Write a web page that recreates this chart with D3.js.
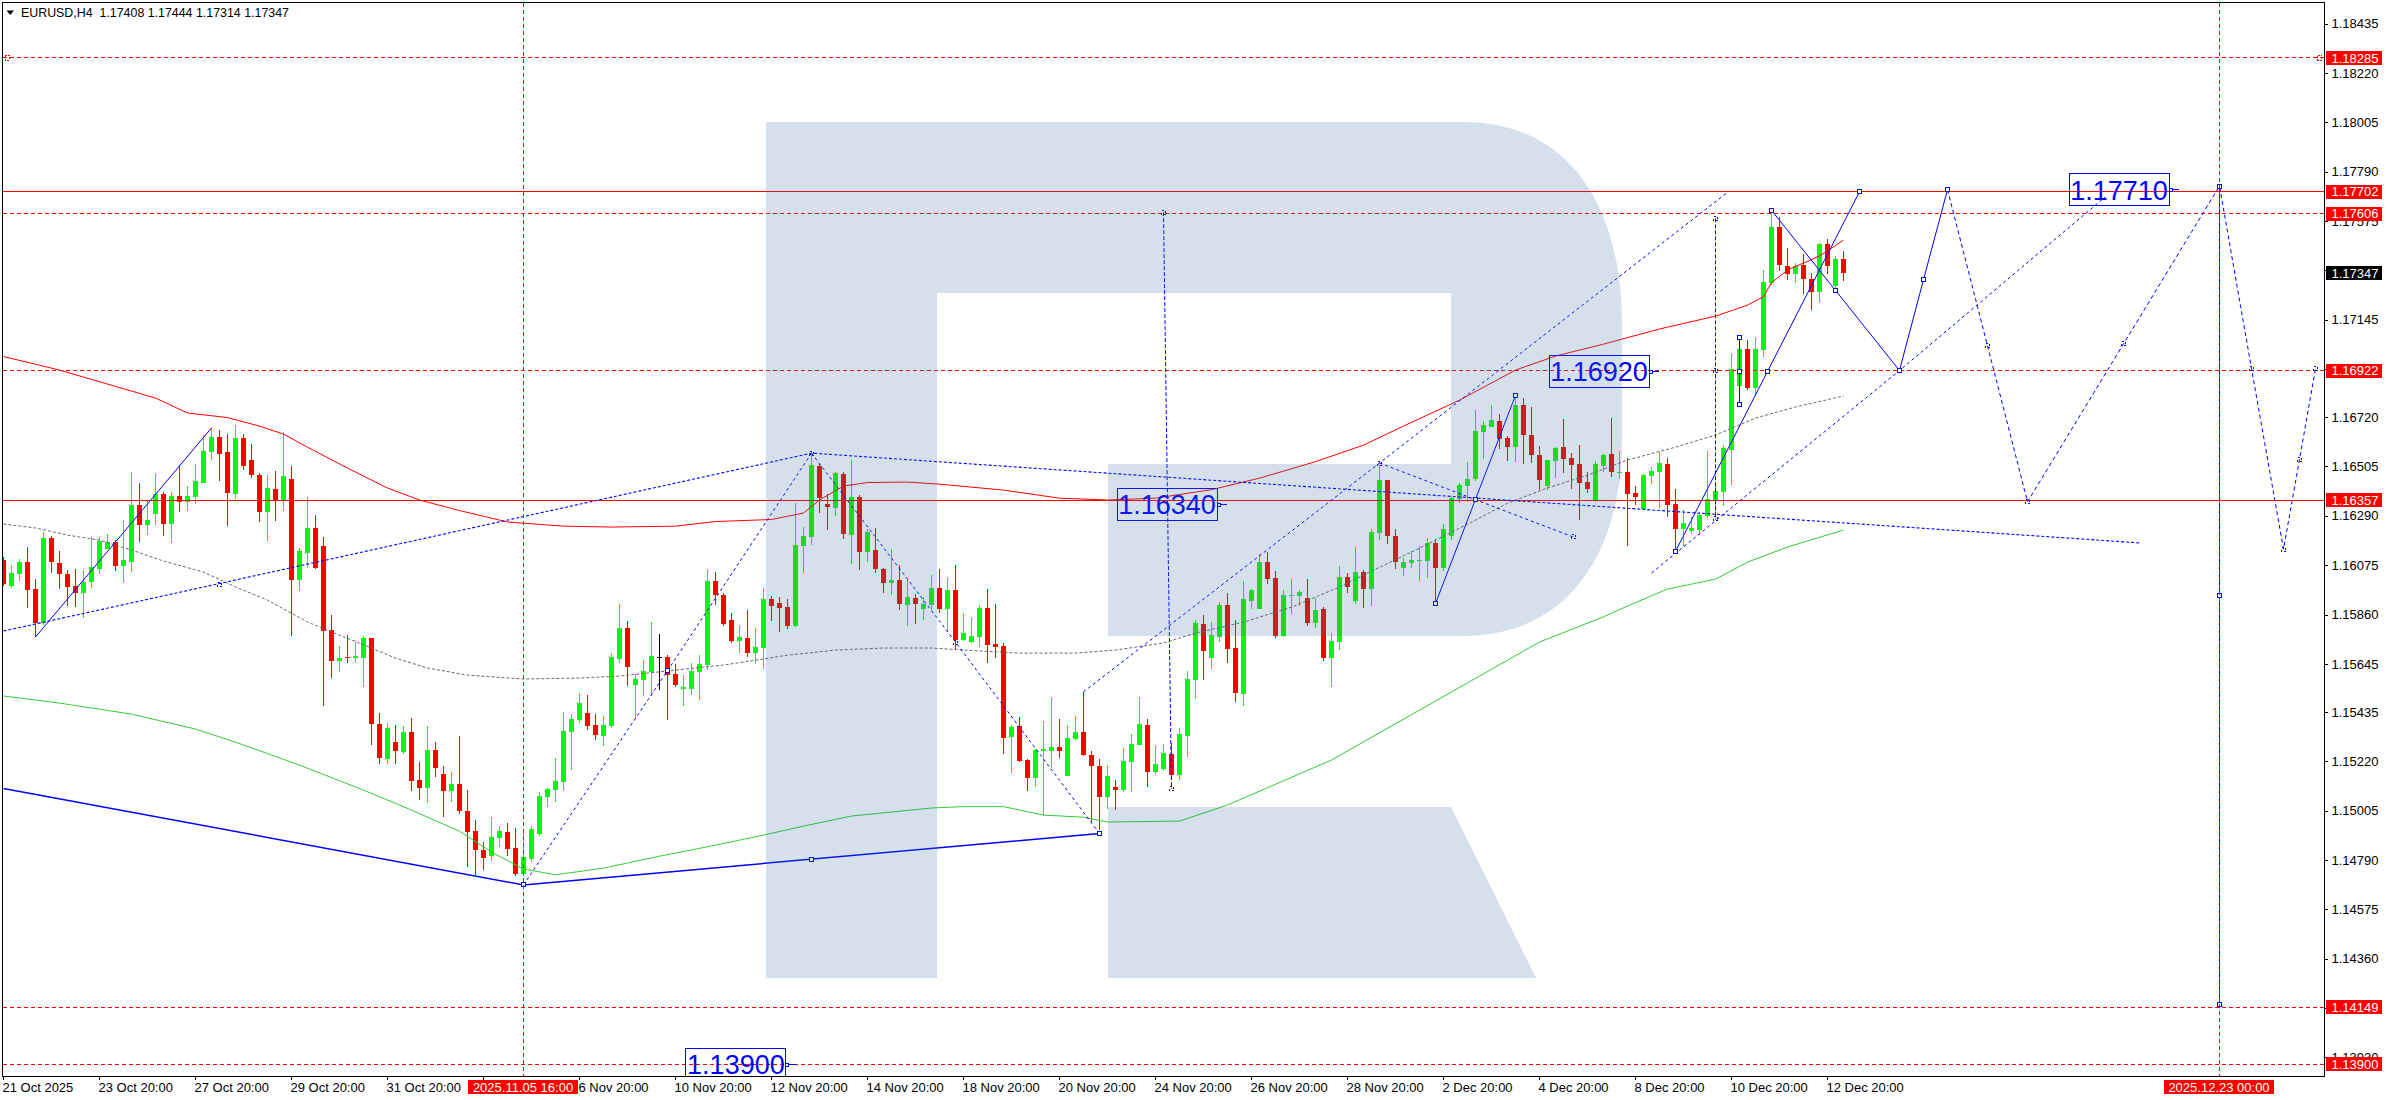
<!DOCTYPE html>
<html><head><meta charset="utf-8">
<script src="https://cdn.jsdelivr.net/npm/d3@7"></script>
<style>
html,body{margin:0;padding:0;background:#fff;overflow:hidden}
svg{display:block}
text{font-family:"Liberation Sans",Arial,sans-serif}
</style></head><body><svg id="c" width="2388" height="1100"></svg>
<script>
// ---------- candle data (H4 bars, index 0..230) ----------
const opens=[
1.16098,1.15985,1.16037,1.16089,1.15972,1.15822,1.16194,1.16085,1.16037,1.15985,
1.15954,1.16002,1.16059,1.16146,1.16176,1.16072,1.16089,1.16338,1.16250,1.16298,
1.16385,1.16255,1.16377,1.16351,1.16372,1.16433,1.16568,1.16634,1.16568,1.16385,
1.16629,1.16534,1.16468,1.16307,1.16407,1.16359,1.16451,1.16011,1.16128,1.16237,
1.16160,1.15793,1.15658,1.15675,1.15671,1.15671,1.15758,1.15383,1.15231,1.15305,
1.15261,1.15349,1.15139,1.15105,1.15270,1.15166,1.15092,1.15122,1.15004,1.14917,
1.14834,1.14808,1.14886,1.14913,1.14843,1.14730,1.14795,1.14904,1.15065,1.15096,
1.15131,1.15349,1.15401,1.15431,1.15379,1.15331,1.15375,1.15666,1.15801,1.15553,
1.15574,1.15609,1.15677,1.15675,1.15600,1.15535,1.15535,1.15609,1.15640,1.16006,
1.15945,1.15836,1.15744,1.15757,1.15692,1.15714,1.15927,1.15910,1.15892,1.15810,
1.16158,1.16197,1.16507,1.16341,1.16324,1.16472,1.16206,1.16372,1.16132,1.16141,
1.16058,1.15997,1.16010,1.15901,1.15932,1.15884,1.15902,1.15976,1.15884,1.15967,
1.15749,1.15740,1.15762,1.15889,1.15732,1.15723,1.15327,1.15374,1.15226,1.15148,
1.15266,1.15266,1.15283,1.15157,1.15318,1.15348,1.15248,1.15200,1.15065,1.15109,
1.15096,1.15218,1.15292,1.15379,1.15174,1.15187,1.15252,1.15161,1.15331,1.15575,
1.15819,1.15671,1.15762,1.15902,1.15714,1.15513,1.15919,1.15884,1.16089,1.16019,
1.15766,1.15941,1.15941,1.15932,1.15823,1.15884,1.15671,1.15740,1.16024,1.15919,
1.16045,1.15971,1.16215,1.16446,1.16202,1.16063,1.16085,1.16093,1.16093,1.16172,
1.16063,1.16202,1.16363,1.16420,1.16450,1.16655,1.16677,1.16703,1.16629,1.16590,
1.16773,1.16642,1.16555,1.16420,1.16529,1.16590,1.16542,1.16516,1.16438,1.16359,
1.16507,1.16560,1.16477,1.16481,1.16390,1.16320,1.16464,1.16481,1.16516,1.16342,
1.16233,1.16224,1.16229,1.16290,1.16359,1.16394,1.16577,1.16856,1.17017,1.16847,
1.17013,1.17305,1.17549,1.17379,1.17344,1.17383,1.17322,1.17266,1.17475,1.17292,
1.17408];
const highs=[
1.16110,1.16076,1.16102,1.16155,1.16015,1.16220,1.16202,1.16137,1.16054,1.16059,
1.16054,1.16198,1.16198,1.16211,1.16185,1.16272,1.16481,1.16433,1.16355,1.16473,
1.16394,1.16394,1.16512,1.16420,1.16516,1.16643,1.16673,1.16664,1.16647,1.16686,
1.16647,1.16603,1.16477,1.16468,1.16486,1.16656,1.16507,1.16150,1.16372,1.16294,
1.16197,1.15858,1.15723,1.15771,1.15741,1.15767,1.15758,1.15431,1.15388,1.15379,
1.15375,1.15410,1.15218,1.15375,1.15305,1.15200,1.15174,1.15331,1.15096,1.14965,
1.14869,1.14978,1.14939,1.14952,1.14930,1.14926,1.14939,1.15087,1.15105,1.15235,
1.15436,1.15427,1.15519,1.15510,1.15427,1.15418,1.15692,1.15905,1.15831,1.15600,
1.15661,1.15827,1.15775,1.15683,1.15644,1.15596,1.15648,1.15683,1.16054,1.16045,
1.15953,1.15866,1.15810,1.15879,1.15801,1.15975,1.15940,1.15936,1.15927,1.16346,
1.16241,1.16563,1.16515,1.16385,1.16481,1.16481,1.16533,1.16380,1.16232,1.16237,
1.16062,1.16145,1.16075,1.16013,1.15949,1.15936,1.16032,1.16059,1.16019,1.16076,
1.15867,1.15845,1.15902,1.15971,1.15906,1.15736,1.15379,1.15414,1.15231,1.15274,
1.15396,1.15496,1.15405,1.15379,1.15418,1.15523,1.15266,1.15231,1.15205,1.15139,
1.15279,1.15340,1.15501,1.15405,1.15287,1.15296,1.15300,1.15366,1.15614,1.15836,
1.15858,1.15828,1.15915,1.15954,1.15836,1.16006,1.15971,1.16124,1.16132,1.16050,
1.15967,1.16015,1.15967,1.16015,1.15932,1.15893,1.15780,1.16071,1.16041,1.16154,
1.16054,1.16233,1.16512,1.16446,1.16233,1.16106,1.16137,1.16159,1.16193,1.16189,
1.16255,1.16372,1.16433,1.16525,1.16751,1.16703,1.16773,1.16734,1.16638,1.16817,
1.16803,1.16764,1.16594,1.16533,1.16590,1.16712,1.16564,1.16599,1.16481,1.16529,
1.16560,1.16717,1.16573,1.16542,1.16420,1.16473,1.16503,1.16568,1.16542,1.16407,
1.16316,1.16285,1.16307,1.16573,1.16420,1.16599,1.16995,1.17017,1.17056,1.17065,
1.17361,1.17610,1.17592,1.17457,1.17392,1.17431,1.17348,1.17479,1.17497,1.17422,
1.17444];
const lows=[
1.15985,1.15976,1.16006,1.15889,1.15762,1.15815,1.16041,1.15972,1.15897,1.15893,
1.15845,1.15976,1.16037,1.16146,1.16050,1.16002,1.16046,1.16176,1.16207,1.16250,
1.16202,1.16172,1.16307,1.16311,1.16342,1.16433,1.16534,1.16442,1.16246,1.16364,
1.16490,1.16455,1.16263,1.16181,1.16268,1.16311,1.15767,1.15963,1.16063,1.16058,
1.15463,1.15584,1.15610,1.15649,1.15649,1.15545,1.15292,1.15209,1.15209,1.15209,
1.15253,1.15092,1.15052,1.15039,1.15153,1.14978,1.15044,1.14991,1.14760,1.14725,
1.14747,1.14786,1.14847,1.14808,1.14721,1.14721,1.14782,1.14895,1.15022,1.15044,
1.15096,1.15183,1.15388,1.15357,1.15313,1.15287,1.15366,1.15649,1.15548,1.15409,
1.15505,1.15505,1.15531,1.15400,1.15544,1.15461,1.15509,1.15487,1.15618,1.15901,
1.15810,1.15736,1.15692,1.15675,1.15644,1.15622,1.15831,1.15783,1.15797,1.15805,
1.16041,1.16163,1.16302,1.16228,1.16289,1.16189,1.16080,1.16054,1.16088,1.16041,
1.15953,1.15945,1.15879,1.15810,1.15818,1.15836,1.15880,1.15867,1.15788,1.15706,
1.15745,1.15736,1.15719,1.15649,1.15671,1.15252,1.15170,1.15218,1.15091,1.15109,
1.14982,1.15192,1.15235,1.15157,1.15313,1.15244,1.14956,1.14921,1.15013,1.15009,
1.15087,1.15087,1.15292,1.15109,1.15165,1.15178,1.15139,1.15139,1.15239,1.15492,
1.15575,1.15623,1.15740,1.15649,1.15479,1.15461,1.15884,1.15884,1.15993,1.15758,
1.15762,1.15862,1.15897,1.15810,1.15801,1.15658,1.15546,1.15706,1.15954,1.15906,
1.15889,1.15897,1.16185,1.16167,1.16058,1.16028,1.16063,1.16006,1.16019,1.15915,
1.16050,1.16185,1.16346,1.16350,1.16442,1.16538,1.16677,1.16581,1.16529,1.16525,
1.16516,1.16520,1.16403,1.16403,1.16455,1.16477,1.16407,1.16272,1.16390,1.16351,
1.16481,1.16460,1.16451,1.16159,1.16338,1.16320,1.16429,1.16325,1.16285,1.16142,
1.16159,1.16211,1.16207,1.16281,1.16272,1.16333,1.16425,1.16856,1.16839,1.16812,
1.16982,1.17296,1.17357,1.17318,1.17305,1.17257,1.17187,1.17222,1.17344,1.17283,
1.17314];
const closes=[
1.15993,1.16041,1.16089,1.15967,1.15823,1.16194,1.16089,1.16037,1.15980,1.15954,
1.16002,1.16067,1.16181,1.16176,1.16072,1.16098,1.16338,1.16250,1.16272,1.16385,
1.16255,1.16377,1.16351,1.16377,1.16442,1.16573,1.16634,1.16560,1.16390,1.16629,
1.16507,1.16468,1.16307,1.16412,1.16355,1.16464,1.16011,1.16137,1.16237,1.16063,
1.15788,1.15658,1.15671,1.15671,1.15680,1.15758,1.15383,1.15235,1.15366,1.15266,
1.15349,1.15135,1.15105,1.15270,1.15192,1.15092,1.15122,1.15004,1.14913,1.14834,
1.14799,1.14891,1.14917,1.14838,1.14730,1.14804,1.14926,1.15070,1.15100,1.15135,
1.15353,1.15405,1.15475,1.15375,1.15335,1.15379,1.15675,1.15801,1.15631,1.15579,
1.15614,1.15679,1.15677,1.15596,1.15553,1.15544,1.15614,1.15644,1.16006,1.15945,
1.15818,1.15744,1.15762,1.15692,1.15718,1.15927,1.15897,1.15888,1.15810,1.16163,
1.16202,1.16511,1.16367,1.16328,1.16476,1.16210,1.16372,1.16132,1.16219,1.16058,
1.15997,1.16010,1.15905,1.15936,1.15905,1.15905,1.15976,1.15884,1.15967,1.15749,
1.15780,1.15767,1.15889,1.15727,1.15719,1.15322,1.15370,1.15222,1.15148,1.15270,
1.15274,1.15283,1.15266,1.15322,1.15348,1.15248,1.15200,1.15065,1.15157,1.15096,
1.15222,1.15296,1.15383,1.15174,1.15209,1.15257,1.15161,1.15340,1.15579,1.15823,
1.15701,1.15771,1.15902,1.15710,1.15518,1.15927,1.15967,1.16089,1.16015,1.15766,
1.15945,1.15945,1.15958,1.15823,1.15880,1.15671,1.15745,1.16024,1.15980,1.16045,
1.15971,1.16220,1.16446,1.16202,1.16089,1.16089,1.16098,1.16098,1.16172,1.16063,
1.16233,1.16368,1.16424,1.16450,1.16660,1.16686,1.16708,1.16625,1.16590,1.16773,
1.16642,1.16555,1.16446,1.16533,1.16586,1.16538,1.16512,1.16433,1.16407,1.16516,
1.16555,1.16481,1.16481,1.16385,1.16372,1.16468,1.16486,1.16521,1.16338,1.16233,
1.16259,1.16237,1.16294,1.16364,1.16399,1.16586,1.16930,1.17017,1.16847,1.17017,
1.17309,1.17549,1.17383,1.17344,1.17379,1.17322,1.17266,1.17475,1.17379,1.17409,
1.17347];
const dojiBars=[82];

// ---------- moving averages: [bar index, price] ----------
const maRed=[[0,1.16984],[7,1.16925],[13,1.16864],[19,1.16803],[23,1.16738],[28,1.16718],[32,1.16681],[35,1.16646],[38,1.16589],[43,1.16498],[48,1.16411],[52,1.16359],[57,1.16313],[63,1.16263],[70,1.16245],[76,1.16241],[84,1.16245],[89,1.16265],[96,1.16274],[100,1.16302],[102,1.16359],[105,1.16420],[108,1.16435],[113,1.16437],[117,1.16428],[125,1.16402],[132,1.16367],[138,1.16359],[144,1.16367],[151,1.16404],[157,1.16454],[164,1.16526],[170,1.16598],[175,1.16681],[182,1.16794],[189,1.16925],[194,1.16986],[200,1.17038],[207,1.17104],[214,1.17160],[216,1.17184],[218,1.17208],[220,1.17245],[221,1.17306],[223,1.17361],[227,1.17422],[230,1.17491]];
const maGray=[[0,1.16254],[4,1.16237],[8,1.16206],[12,1.16184],[16,1.16141],[20,1.16093],[25,1.16045],[29,1.15980],[33,1.15923],[38,1.15827],[42,1.15770],[46,1.15714],[49,1.15670],[53,1.15627],[58,1.15596],[65,1.15579],[72,1.15583],[77,1.15592],[83,1.15614],[90,1.15640],[95,1.15666],[98,1.15683],[104,1.15705],[110,1.15714],[116,1.15714],[122,1.15701],[127,1.15692],[134,1.15692],[139,1.15705],[145,1.15736],[149,1.15779],[155,1.15827],[161,1.15892],[167,1.15980],[171,1.16049],[177,1.16149],[184,1.16271],[188,1.16345],[193,1.16411],[198,1.16467],[203,1.16533],[209,1.16589],[214,1.16642],[219,1.16716],[224,1.16764],[230,1.16812]];
const maGreen=[[0,1.15505],[7,1.15474],[16,1.15426],[24,1.15361],[29,1.15304],[37,1.15204],[45,1.15095],[51,1.15008],[57,1.14916],[61,1.14825],[65,1.14751],[69,1.14726],[75,1.14755],[82,1.14807],[89,1.14855],[95,1.14899],[100,1.14938],[106,1.14982],[116,1.15017],[120,1.15023],[125,1.15023],[130,1.14986],[135,1.14977],[138,1.14956],[147,1.14960],[153,1.15030],[166,1.15226],[179,1.15483],[192,1.15740],[200,1.15850],[203,1.15897],[208,1.15971],[214,1.16014],[218,1.16088],[223,1.16154],[230,1.16228]];

// ---------- drawn objects: [bar index, price] ----------
const waveSmall=[[4,1.15762],[26,1.16673]];
const waveHeavy=[[0,1.15102],[65,1.14682],[137,1.14906]];
const channelLong=[[0,1.15788],[101,1.16563],[267,1.16172]];
const waveUp=[[65,1.14682],[83,1.15615],[101,1.16563]];
const waveDown=[[101,1.16563],[119,1.15740],[137,1.14906]];
const channelUp=[[135,1.15523],[172,1.16520],[215.6,1.17702]];
const channelDown=[[172,1.16520],[196.2,1.16198]];
const channelFuture=[[206,1.16041],[237,1.16923],[262.7,1.17679]];
const forecastA=[[209,1.16135],[220.5,1.16919],[232,1.17702]];
const forecastB=[[221,1.17621],[229,1.17272],[237,1.16923],[240,1.17319],[243,1.17711]];
const forecastC=[[217,1.17069],[217,1.16918],[217,1.16775]];
const forecastD=[[179,1.15908],[184,1.16362],[189,1.16815]];
const forecastDash=[[243,1.17711],[248,1.17031],[253,1.16351],[265,1.17039],[277,1.17727],[281,1.16932],[285,1.16145],[287,1.16535],[289,1.16932]];
const verticalK=[[145,1.17613],[146,1.15101]];
const verticalL=[[214,1.17586],[214,1.16925],[214,1.16279]];
const verticalM=[[277,1.17727],[277,1.15942],[277,1.14160]];

// ---------- levels and labels ----------
const solidLevels=[1.17702,1.16357];
const dashedLevels=[1.18285,1.17606,1.16922,1.14149,1.13900];
const crossBars=[65,277];
const crossLabels=["2025.11.05 16:00","2025.12.23 00:00"];
const currentPrice=1.17347;
const boxedPrices=[1.16340,1.16920,1.17710,1.13900];
const boxedRightBars=[151.7,205.7,270.7,97.8];
const priceTicks=[1.18435,1.18220,1.18005,1.17790,1.17575,1.17360,1.17145,1.16930,1.16720,1.16505,1.16290,1.16075,1.15860,1.15645,1.15435,1.15220,1.15005,1.14790,1.14575,1.14360,1.14145,1.13930];
const coveredPriceTicks=[1.17360,1.16930,1.14145];
const timeTickBars=[0,12,24,36,48,60,72,84,96,108,120,132,144,156,168,180,192,204,216,228];
const timeTickLabels=["21 Oct 2025","23 Oct 20:00","27 Oct 20:00","29 Oct 20:00","31 Oct 20:00","","6 Nov 20:00","10 Nov 20:00","12 Nov 20:00","14 Nov 20:00","18 Nov 20:00","20 Nov 20:00","24 Nov 20:00","26 Nov 20:00","28 Nov 20:00","2 Dec 20:00","4 Dec 20:00","8 Dec 20:00","10 Dec 20:00","12 Dec 20:00"];
const headerText="EURUSD,H4  1.17408 1.17444 1.17314 1.17347";

// ---------- scales ----------
const L=2.5,T=2.5,R=2324.5,B=1076.5;
const x=d3.scaleLinear().domain([0,289]).range([3.5,3.5+8*289]);
const y=d3.scaleLinear().domain([1.18435,1.14360]).range([23.5,958.8]);
const px=v=>Math.round(v-0.5)+0.5;

const svg=d3.select("#c");
svg.append("rect").attr("width",2388).attr("height",1100).attr("fill","#fff");
svg.append("defs").append("clipPath").attr("id","plot").append("rect").attr("x",L).attr("y",T).attr("width",R-L).attr("height",B-T);

// ---------- axes ----------
const fmt=d3.format(".5f");
const axY=svg.append("g").attr("transform",`translate(${R},0)`)
  .call(d3.axisRight(y).tickValues(priceTicks).tickFormat(d=>coveredPriceTicks.includes(d)?"":fmt(d)).tickSize(3).tickPadding(4));
axY.select(".domain").remove();
axY.selectAll("text").attr("font-size",13).attr("fill","#000").attr("font-family","Liberation Sans");
axY.selectAll("line").attr("stroke","#000").attr("shape-rendering","crispEdges");
const axX=svg.append("g").attr("transform",`translate(0,${B})`)
  .call(d3.axisBottom(x).tickValues(timeTickBars).tickFormat((d,i)=>timeTickLabels[i]).tickSize(3).tickPadding(3));
axX.select(".domain").remove();
axX.selectAll("text").attr("font-size",13).attr("fill","#000").attr("text-anchor","start").attr("dx",-1.5).attr("font-family","Liberation Sans");
axX.selectAll("line").attr("stroke","#000").attr("shape-rendering","crispEdges").attr("transform","translate(-1,0)");

const plot=svg.append("g").attr("clip-path","url(#plot)");

// ---------- candles ----------
const bars=d3.range(opens.length).map(i=>({i,o:opens[i],h:highs[i],l:lows[i],c:closes[i]}));
const colour=d=>dojiBars.includes(d.i)?"#000":(d.c>=d.o?"#00ff00":"#ff0000");
const cg=plot.append("g").attr("shape-rendering","crispEdges");
cg.selectAll(".w").data(bars).join("rect").attr("class","w")
  .attr("x",d=>x(d.i)-0.5).attr("width",1)
  .attr("y",d=>y(d.h)).attr("height",d=>Math.max(1,y(d.l)-y(d.h))).attr("fill",colour);
cg.selectAll(".b").data(bars).join("rect").attr("class","b")
  .attr("x",d=>x(d.i)-2.5).attr("width",5)
  .attr("y",d=>Math.min(y(d.o),y(d.c))).attr("height",d=>Math.max(1,Math.abs(y(d.o)-y(d.c)))).attr("fill",colour);

// ---------- moving averages ----------
const line=d3.line().x(d=>x(d[0])).y(d=>y(d[1]));
const path=(data,stroke,w,dash)=>plot.append("path").attr("d",line(data)).attr("fill","none").attr("stroke",stroke).attr("stroke-width",w).attr("stroke-dasharray",dash||null);
path(maRed,"#ff0000",1);
path(maGreen,"#32cd32",1);
path(maGray,"#696969",1,"3,2");

// ---------- horizontal levels ----------
plot.selectAll(".ls").data(solidLevels).join("line").attr("x1",L).attr("x2",R)
  .attr("y1",d=>px(y(d))).attr("y2",d=>px(y(d))).attr("stroke","#ff0000").attr("shape-rendering","crispEdges");
plot.selectAll(".ld").data(dashedLevels).join("line").attr("x1",L).attr("x2",R)
  .attr("y1",d=>px(y(d))).attr("y2",d=>px(y(d))).attr("stroke","#ff0000").attr("stroke-dasharray","4,3").attr("shape-rendering","crispEdges");

// ---------- objects ----------
const BLUE="#0000ff";
path(waveSmall,BLUE,1);
path(channelLong,BLUE,1.1,"3,2");
path(waveHeavy,BLUE,1.5);
path(waveUp,BLUE,1,"3,3");
path(waveDown,BLUE,1,"3,3");
path(channelUp,BLUE,1,"3,3");
path(channelDown,BLUE,1,"3,3");
path(channelFuture,BLUE,1,"3,3");
[forecastA,forecastB,forecastC,forecastD,verticalM].forEach(a=>path(a,BLUE,1));
path(forecastDash,BLUE,1,"4,3");
path(verticalK,BLUE,1,"4,2");
path(verticalL,BLUE,1,"4,2");

const node=(pts,dash)=>plot.append("g").selectAll("rect").data(pts).join("rect")
  .attr("x",d=>px(x(d[0]))-2).attr("y",d=>px(y(d[1]))-2).attr("width",4).attr("height",4)
  .attr("fill",dash?"none":"#fff").attr("stroke",BLUE).attr("stroke-dasharray",dash?"2,2":null).attr("shape-rendering","crispEdges");
node([...waveHeavy.slice(1),[101,1.14794],...forecastA,...forecastB,...forecastC,...forecastD,...verticalM,[83,1.15615]]);
node([[101,1.16563],[119,1.15740],[172,1.16520],[196.2,1.16198],[27,1.15991],...forecastDash.slice(1),...verticalK,...verticalL],true);

// crosshair drawn above blue line
plot.selectAll(".cr").data(crossBars).join("line").attr("x1",d=>x(d)).attr("x2",d=>x(d)).attr("y1",T).attr("y2",B)
  .attr("stroke","#ff0000").attr("stroke-dasharray","4,3").attr("shape-rendering","crispEdges");

// end markers of the top level
plot.selectAll(".mk").data([0.2,289.3]).join("rect").attr("x",d=>x(d)).attr("y",y(1.18285)-2.5).attr("width",4).attr("height",5)
  .attr("fill","none").attr("stroke","#ff0000").attr("stroke-dasharray","2,1").attr("shape-rendering","crispEdges");

// ---------- boxed price labels ----------
const boxes=boxedPrices.map((p,i)=>({p,r:boxedRightBars[i]}));
const bx=plot.append("g");
bx.selectAll("rect.box").data(boxes).join("rect").attr("class","box").attr("x",d=>px(x(d.r))-100).attr("y",d=>px(y(d.p))-16).attr("width",100).attr("height",32)
  .attr("fill","none").attr("stroke",BLUE).attr("shape-rendering","crispEdges");
bx.selectAll("text").data(boxes).join("text").attr("x",d=>x(d.r)-50).attr("y",d=>y(d.p)+10).attr("text-anchor","middle")
  .attr("font-size",27).attr("fill",BLUE).text(d=>d.p.toFixed(5));
bx.selectAll("line").data(boxes).join("line").attr("x1",d=>x(d.r)).attr("x2",d=>x(d.r)+10).attr("y1",d=>px(y(d.p))).attr("y2",d=>px(y(d.p)))
  .attr("stroke",BLUE).attr("shape-rendering","crispEdges");
bx.selectAll("rect.pin").data(boxes).join("rect").attr("class","pin").attr("x",d=>px(x(d.r))).attr("y",d=>px(y(d.p))-1.5).attr("width",3).attr("height",3)
  .attr("fill","#fff").attr("stroke",BLUE).attr("shape-rendering","crispEdges");

// ---------- watermark over everything in the plot ----------
plot.append("path")
  .attr("d","M766,122 L1463,122 C1575,122 1622,215 1622,323 L1622,440 C1622,550 1570,636 1463,636 L1108,636 L1108,464 L1451,464 L1451,293 L937,293 L937,978 L766,978 Z M1108,807 L1451,807 L1536,978 L1108,978 Z")
  .attr("fill","rgb(60,111,167)").attr("fill-opacity",0.215);

// ---------- frame ----------
svg.append("rect").attr("x",L).attr("y",T).attr("width",R-L).attr("height",B-T).attr("fill","none").attr("stroke","#000").attr("shape-rendering","crispEdges");

// ---------- price tags ----------
const tag=(p,fill)=>{
  const g=svg.append("g");
  g.append("rect").attr("x",2326).attr("y",y(p)-7).attr("width",56).attr("height",14).attr("fill",fill).attr("shape-rendering","crispEdges");
  g.append("text").attr("x",2331.5).attr("y",y(p)+4.7).attr("font-size",13).attr("fill","#fff").text(p.toFixed(5));
};
[...solidLevels,...dashedLevels].forEach(p=>tag(p,"#ff0000"));
tag(currentPrice,"#000");

// ---------- crosshair time tags ----------
crossBars.forEach((b,i)=>{
  svg.append("rect").attr("x",x(b)-55.5).attr("y",1080).attr("width",110).attr("height",14).attr("fill","#ff0000");
  svg.append("text").attr("x",x(b)-0.5).attr("y",1092).attr("text-anchor","middle").attr("font-size",13).attr("fill","#fff").text(crossLabels[i]);
});

// ---------- header ----------
svg.append("path").attr("d","M6.5,10.5 L14,10.5 L10.25,15 Z").attr("fill","#000");
svg.append("text").attr("x",21).attr("y",17).attr("font-size",12.4).attr("fill","#000").attr("xml:space","preserve").style("white-space","pre").text(headerText);
</script></body></html>
